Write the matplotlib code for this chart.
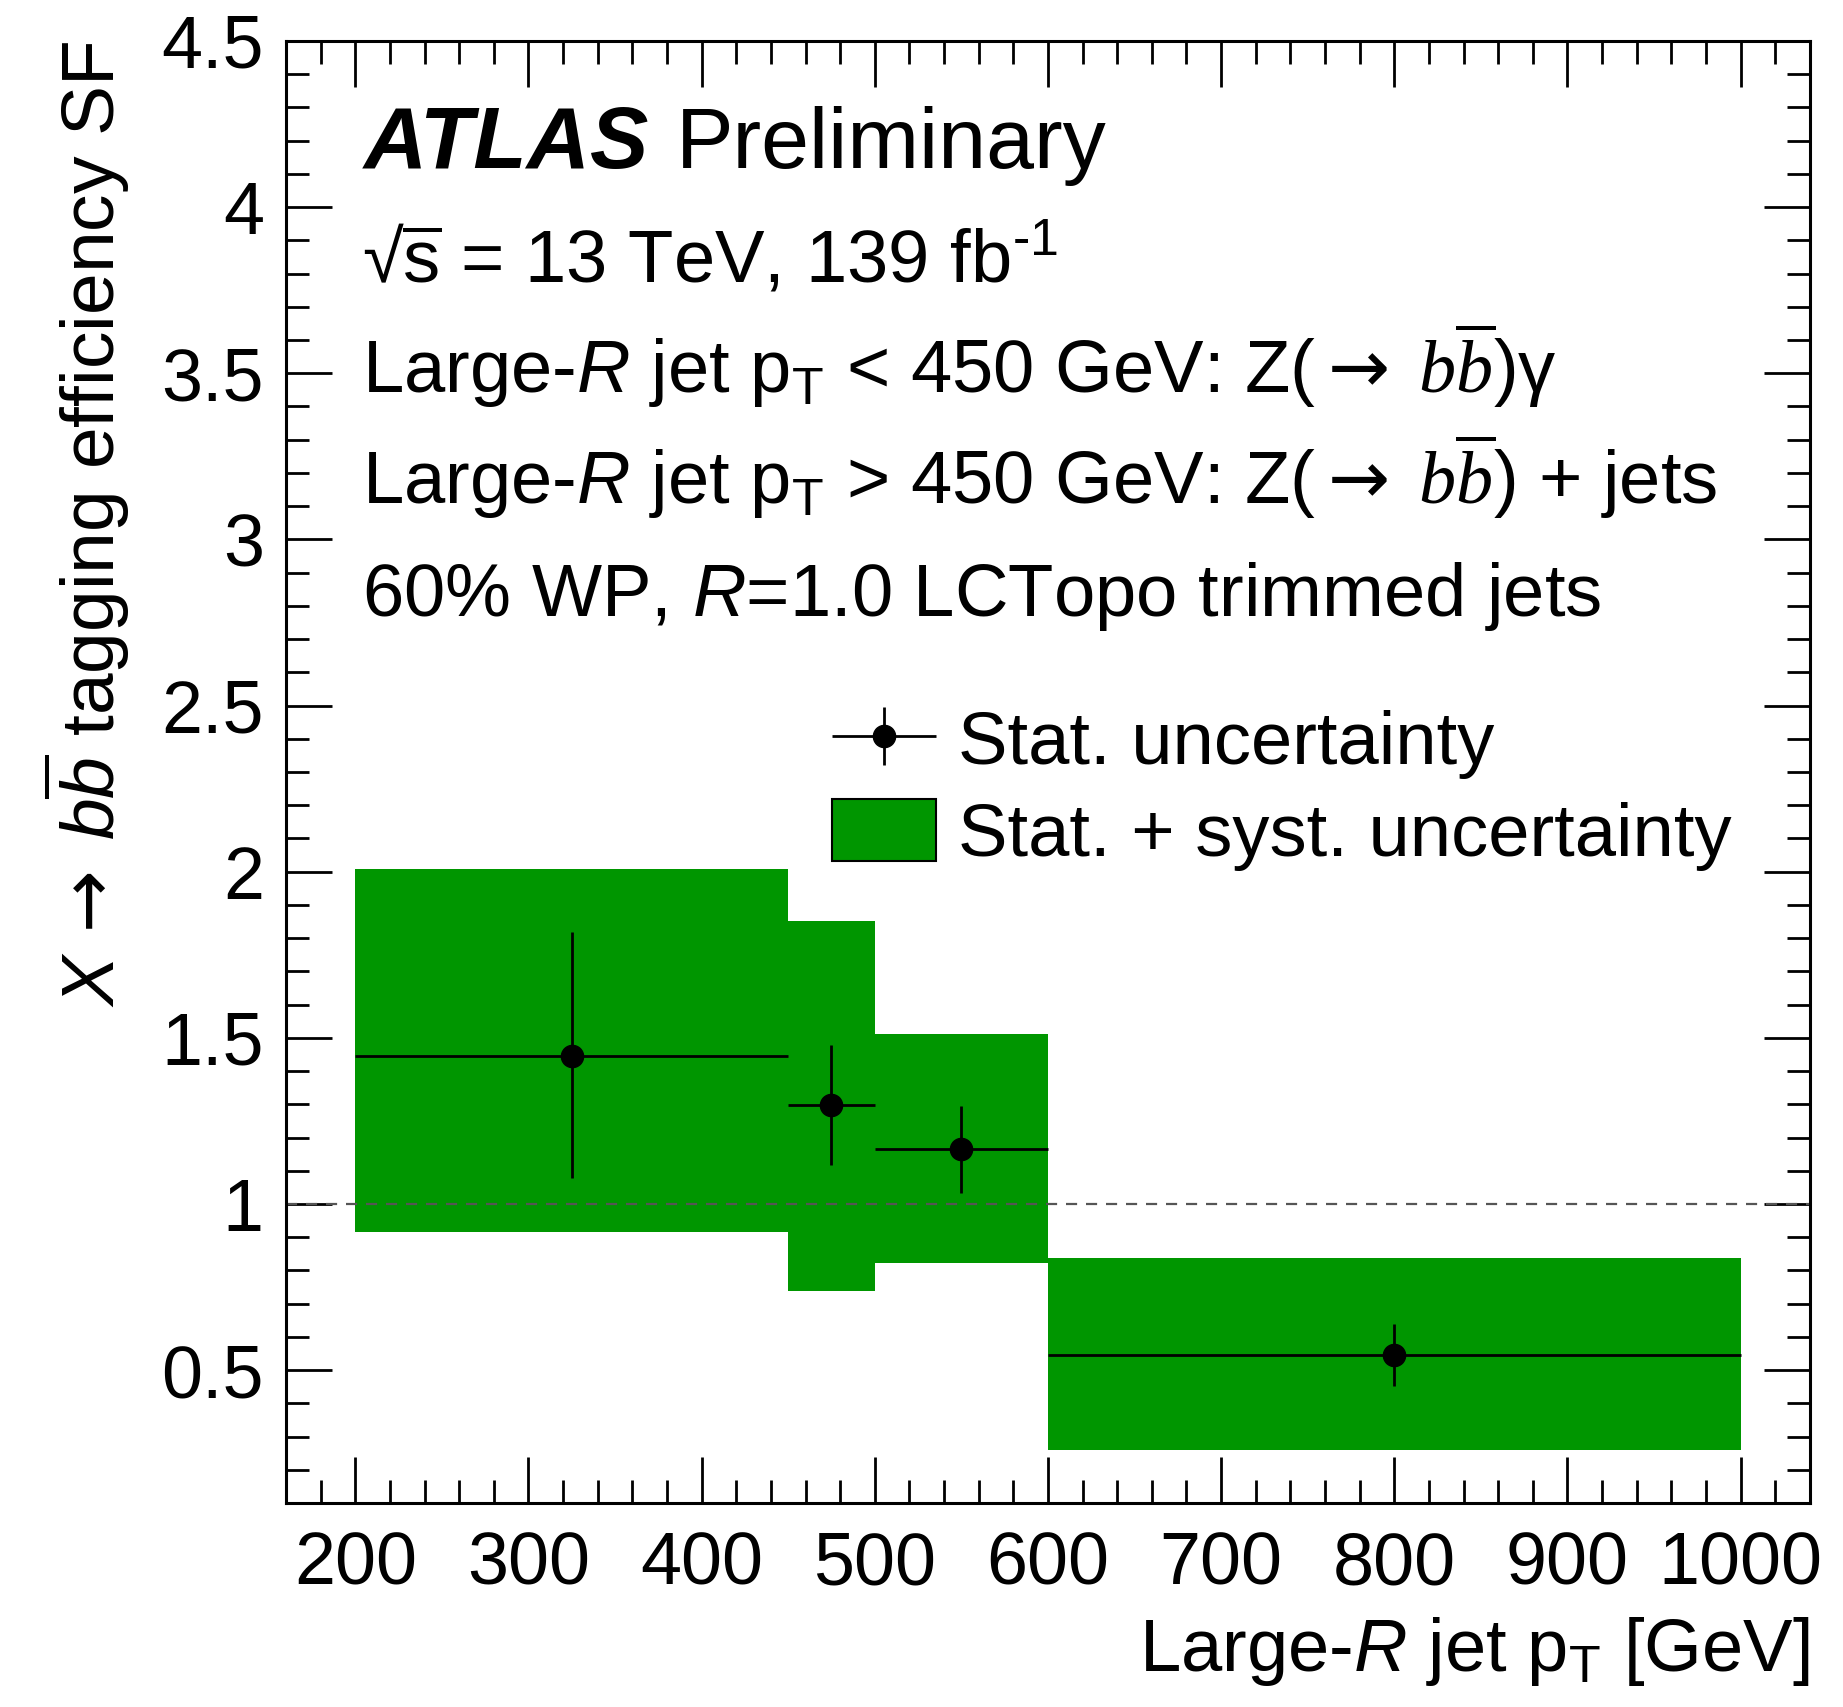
import numpy as np
import matplotlib
matplotlib.use("Agg")
from matplotlib import pyplot as plt
from matplotlib.patches import Patch
from matplotlib.container import ErrorbarContainer
from matplotlib.legend_handler import HandlerErrorbar
from matplotlib.ticker import MultipleLocator, FixedLocator

plt.rcParams['font.family'] = ['Liberation Sans', 'DejaVu Sans']
plt.rcParams['mathtext.fontset'] = 'custom'
plt.rcParams['mathtext.rm'] = 'Liberation Sans'
plt.rcParams['mathtext.it'] = 'Liberation Sans:italic'
plt.rcParams['mathtext.cal'] = 'Liberation Serif:italic'
plt.rcParams['mathtext.sf'] = 'DejaVu Sans'

# pT bins [GeV] and measured scale factors
bin_lo = np.array([200, 450, 500, 600])
bin_hi = np.array([450, 500, 600, 1000])
pt_pts = np.array([325, 475, 550, 800])
sf = np.array([1.446, 1.298, 1.166, 0.546])
stat_up = np.array([1.817, 1.479, 1.296, 0.639])
stat_dn = np.array([1.077, 1.117, 1.032, 0.452])
tot_up = np.array([2.008, 1.853, 1.512, 0.837])
tot_dn = np.array([0.916, 0.737, 0.821, 0.261])

xticks = [200, 300, 400, 500, 600, 700, 800, 900, 1000]
yticks = [0.5, 1, 1.5, 2, 2.5, 3, 3.5, 4, 4.5]
ytick_labels = ['0.5', '1', '1.5', '2', '2.5', '3', '3.5', '4', '4.5']

green = '#009600'
fs = 53.5

fig = plt.figure(figsize=(18.43, 17.07), dpi=100)
ax = fig.add_axes([0.1552, 0.1195, 0.8268, 0.8565])

# stat+syst band
ax.bar(bin_lo, tot_up - tot_dn, width=bin_hi - bin_lo, bottom=tot_dn,
       align='edge', color=green, linewidth=0, zorder=1)
ax.axhline(1, color='#555555', ls='--', lw=1.6, dashes=(5, 4), zorder=2)

xerr = [pt_pts - bin_lo, bin_hi - pt_pts]
yerr = [sf - stat_dn, stat_up - sf]
eb = ax.errorbar(pt_pts, sf, xerr=xerr, yerr=yerr, fmt='o', color='black',
                 ms=16, lw=2.0, capsize=0, zorder=3)

ax.set_xlim(160, 1040)
ax.set_ylim(0.1, 4.5)
ax.xaxis.set_major_locator(FixedLocator(xticks))
ax.xaxis.set_minor_locator(MultipleLocator(20))
ax.set_yticks(yticks, ytick_labels)
ax.yaxis.set_minor_locator(MultipleLocator(0.1))
ax.tick_params(which='both', direction='in', top=True, right=True, width=2,
               labelsize=53)
ax.tick_params(which='major', length=33)
ax.tick_params(which='minor', length=16.5)
ax.tick_params(axis='x', pad=20)
ax.tick_params(axis='y', pad=16)
for s in ax.spines.values():
    s.set_linewidth(2.2)

arrow = r'\mathsf{\rightarrow}'
ax.set_xlabel(r'Large-$\mathit{R}$ jet p$_\mathrm{T}$ [GeV]', fontsize=fs, loc='right',
              labelpad=11)
ax.set_ylabel(r'$\mathit{X}\,' + arrow + r'\;\mathit{b}\overline{\mathit{b}}$ tagging efficiency SF',
              fontsize=54, loc='top')
ax.yaxis.set_label_coords(-0.101, 1.0)

# labels
ax.text(0.051, 0.913, 'ATLAS', transform=ax.transAxes, fontsize=63,
        fontweight='bold', fontstyle='italic', va='baseline')
ax.text(0.256, 0.913, 'Preliminary', transform=ax.transAxes, fontsize=62, va='baseline')
ax.text(0.05, 0.835, r'√$\overline{\mathrm{s}}$ = 13 TeV, 139 fb$^{\text{-1}}$', transform=ax.transAxes,
        fontsize=fs, va='baseline')
ax.text(0.05, 0.759, r'Large-$\mathit{R}$ jet p$_\mathrm{T}$ < 450 GeV: Z($' + arrow + r'\;\mathcal{b}\overline{\mathcal{b}}$)γ',
        transform=ax.transAxes, fontsize=fs, va='baseline')
ax.text(0.05, 0.683, r'Large-$\mathit{R}$ jet p$_\mathrm{T}$ > 450 GeV: Z($' + arrow + r'\;\mathcal{b}\overline{\mathcal{b}}$) + jets',
        transform=ax.transAxes, fontsize=fs, va='baseline')
ax.text(0.05, 0.607, r'60% WP, $\mathit{R}$=1.0 LCTopo trimmed jets',
        transform=ax.transAxes, fontsize=fs, va='baseline')

handles = [eb, Patch(facecolor=green, edgecolor='black', linewidth=1.5)]
labels = ['Stat. uncertainty', 'Stat. + syst. uncertainty']
ax.legend(handles, labels, loc='upper left', bbox_to_anchor=(0.358, 0.544),
          frameon=False, fontsize=fs, borderpad=0, borderaxespad=0,
          handlelength=1.4, handleheight=0.9, handletextpad=0.3, labelspacing=0.27,
          handler_map={ErrorbarContainer: HandlerErrorbar(xerr_size=0.7, yerr_size=0.39)})

fig.savefig('out.png', dpi=100)
